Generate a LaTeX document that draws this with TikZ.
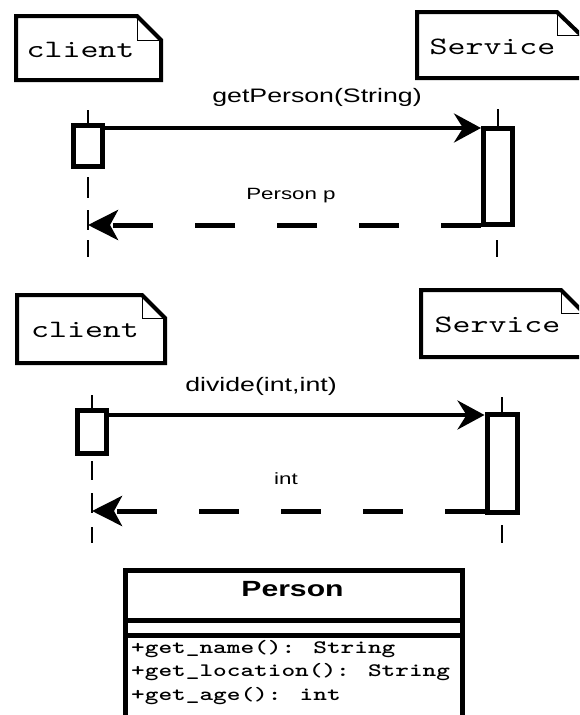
\documentclass[tikz,border=0pt]{standalone}
\usepackage{fontspec}
\usepackage{graphicx}
\setmainfont{Liberation Sans}
\newfontfamily\lmmono{lmmono10-regular.otf}[BoldFont=lmmonolt10-bold.otf]
\usetikzlibrary{arrows.meta}
\newcommand{\sx}[1]{\scalebox{1.37}[1]{#1}}
\tikzset{
  notebox/.style={line width=4pt, line join=miter},
  foldline/.style={line width=1pt},
  actbox/.style={draw, line width=5pt, inner sep=0pt, fill=white, rectangle},
  life/.style={line width=1.3pt},
  msg/.style={line width=4pt, -{Stealth[length=27pt,width=29pt,inset=9pt]}},
  ret/.style={line width=5pt, dash pattern=on 40pt off 42pt, -{Stealth[length=30pt,width=30pt,inset=8pt]}},
  notetext/.style={font=\lmmono\fontsize{25}{28}\selectfont, inner sep=0pt, anchor=base},
  msgtext/.style={font=\fontsize{19.5}{22}\selectfont, inner sep=0pt, anchor=base},
  rettext/.style={font=\fontsize{16.3}{19}\selectfont, inner sep=0pt, anchor=base},
  clsbox/.style={line width=5pt},
  clstitle/.style={font=\bfseries\fontsize{22}{25}\selectfont, inner sep=0pt, anchor=base},
  method/.style={font=\lmmono\bfseries\fontsize{19}{22}\selectfont, inner sep=0pt, anchor=base west},
}
\begin{document}
\begin{tikzpicture}[x=1pt, y=-1pt]
\useasboundingbox (0,0) rectangle (579,715);
\fill[white] (0,0) rectangle (579,715);
\clip (0,0) rectangle (579,715);

% ---------- diagram 1 ----------
\draw[notebox, fill=white] (16,16) -- (137,16) -- (161,40) -- (161,80) -- (16,80) -- cycle;
\draw[foldline] (137,16) -- (137,40) -- (161,40);
\node[notetext] (c1) at (80.5,57) {\sx{client}};

\draw[notebox, fill=white] (417,12) -- (557,12) -- (583,37) -- (583,78) -- (417,78) -- cycle;
\draw[foldline] (557,12) -- (557,35) -- (583,35);
\node[notetext] (s1) at (492.5,54) {\sx{Service}};

\node[actbox, minimum width=29pt, minimum height=41pt] (a1) at (88,145.5) {};
\node[actbox, minimum width=29pt, minimum height=96pt] (b1) at (498,176.5) {};

\draw[life] (a1.north) -- ++(0,-13);
\draw[life] (88,177) -- (88,198) (88,210) -- (88,230) (88,240) -- (88,257);
\draw[life] (b1.north) -- ++(0,-17);
\draw[life] (497,240) -- (497,257);

\coordinate (m1) at (0,128);
\coordinate (r1) at (0,225);
\node[msgtext] (t1) at (317,102) {\sx{getPerson(String)}};
\draw[msg] (a1.east |- m1) -- (b1.west |- m1);
\node[rettext] (t2) at (291,199) {\sx{Person p}};
\draw[ret] (b1.west |- r1) -- (a1.south |- r1);

% ---------- diagram 2 ----------
\draw[notebox, fill=white] (17,295) -- (142,295) -- (165,318) -- (165,363) -- (17,363) -- cycle;
\draw[foldline] (142,295) -- (142,318) -- (165,318);
\node[notetext] (c2) at (85,337) {\sx{client}};

\draw[notebox, fill=white] (421,290) -- (561,290) -- (586,315) -- (586,357) -- (421,357) -- cycle;
\draw[foldline] (561,290) -- (561,313) -- (586,313);
\node[notetext] (s2) at (497.5,332) {\sx{Service}};

\node[actbox, minimum width=29pt, minimum height=43pt] (a2) at (92,432) {};
\node[actbox, minimum width=30pt, minimum height=98pt] (b2) at (502,463.5) {};

\draw[life] (a2.north) -- ++(0,-13);
\draw[life] (92,461) -- (92,480) (92,493) -- (92,513) (92,527) -- (92,543);
\draw[life] (b2.north) -- ++(0,-15);
\draw[life] (502,525) -- (502,543);

\coordinate (m2) at (0,415);
\coordinate (r2) at (0,511);
\node[msgtext] (t3) at (261,391) {\sx{divide(int,int)}};
\draw[msg] (a2.east |- m2) -- (b2.west |- m2);
\node[rettext] (t4) at (286,484) {\sx{int}};
\draw[ret] (b2.west |- r2) -- (a2.south |- r2);

% ---------- class box ----------
\draw[clsbox] (125.5,725) -- (125.5,570.5) -- (462.5,570.5) -- (462.5,725);
\draw[clsbox] (125.5,620) -- (462.5,620);
\draw[clsbox] (125.5,635.5) -- (462.5,635.5);
\node[clstitle] (pt) at (292.5,596) {\sx{Person}};
\node[method] (f1) at (131,653) {\sx{+get\_name(): String}};
\node[method] (f2) at (131,676.5) {\sx{+get\_location(): String}};
\node[method] (f3) at (131,700) {\sx{+get\_age(): int}};
\end{tikzpicture}
\end{document}
